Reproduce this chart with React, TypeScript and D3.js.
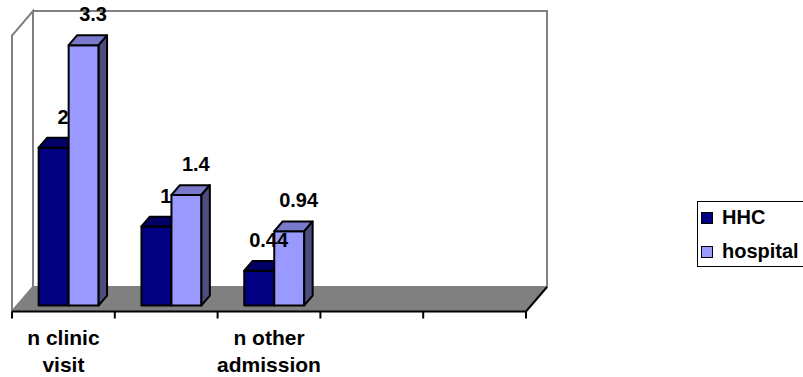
import React from "react";
import * as d3 from "d3";

// Chart data
const categories = ["n clinic visit", "", "n other admission", "", ""];
const seriesNames = ["HHC", "hospital"];
const hhcValues: (number | null)[] = [2, 1, 0.44, null, null];
const hospitalValues: (number | null)[] = [3.3, 1.4, 0.94, null, null];
const valueDomain = [0, 3.5];

const W = 803;
const H = 377;
const FONT = "'Liberation Sans', Arial, Helvetica, sans-serif";

// colours: front, top, side faces
const palette = [
  { front: "#000080", top: "#000066", side: "#000040" },
  { front: "#9999FF", top: "#7A7ACC", side: "#4D4D80" },
];

// 3D box geometry
const axisLeft = 12;
const axisRight = 526;
const floorFrontY = 311.5;
const depth: [number, number] = [21, -24.5];
const barDepthStart = 0.25;
const barDepthEnd = 0.65;

function wrapText(text: string, maxWidth: number, font: string): string[] {
  if (!text) return [];
  const ctx = document.createElement("canvas").getContext("2d");
  const measure = (s: string) => {
    if (!ctx) return s.length * 11;
    ctx.font = font;
    return ctx.measureText(s).width;
  };
  const words = text.split(" ");
  const lines: string[] = [];
  let cur = "";
  for (const w of words) {
    const next = cur ? cur + " " + w : w;
    if (cur && measure(next) > maxWidth) {
      lines.push(cur);
      cur = w;
    } else cur = next;
  }
  if (cur) lines.push(cur);
  return lines;
}

export default function App() {
  const idx = d3.range(categories.length);
  const xCat = d3.scaleBand<number>().domain(idx).range([axisLeft, axisRight]).padding(0);
  const xSeries = d3
    .scaleBand<string>()
    .domain(seriesNames)
    .range([0, xCat.bandwidth()])
    .paddingInner(0)
    .paddingOuter(0.713);

  const frontOff = [depth[0] * barDepthStart, depth[1] * barDepthStart];
  const barD = [depth[0] * (barDepthEnd - barDepthStart), depth[1] * (barDepthEnd - barDepthStart)];

  const yBack = d3.scaleLinear().domain(valueDomain).range([floorFrontY + depth[1], 11]);
  const yBar = d3
    .scaleLinear()
    .domain(valueDomain)
    .range([floorFrontY + frontOff[1], 11 - depth[1] + frontOff[1]]);

  const backLeft = axisLeft + depth[0];
  const backRight = axisRight + depth[0];
  const backBottom = floorFrontY + depth[1];
  const wallTop = yBack(valueDomain[1]);

  const line = (pts: [number, number][]) => "M" + pts.map((p) => p.join(",")).join("L");
  const poly = (pts: [number, number][]) => line(pts) + "Z";

  const allSeries = [hhcValues, hospitalValues];

  type Bar = { key: string; x: number; w: number; yTop: number; yBot: number; s: number; v: number };
  const bars: Bar[] = [];
  idx.forEach((i) => {
    allSeries.forEach((vals, s) => {
      const v = vals[i];
      if (v == null) return;
      const x = (xCat(i) as number) + (xSeries(seriesNames[s]) as number) + frontOff[0];
      bars.push({
        key: `${i}-${s}`,
        x,
        w: xSeries.bandwidth(),
        yTop: yBar(v),
        yBot: yBar(0),
        s,
        v,
      });
    });
  });

  const axisFont = `bold 21px ${FONT}`;

  return (
    <svg
      width={W}
      height={H}
      viewBox={`0 0 ${W} ${H}`}
      style={{ position: "absolute", left: 0, top: 0, background: "#fff" }}
      fontFamily={FONT}
    >
      {/* walls */}
      <path
        d={poly([
          [axisLeft, floorFrontY],
          [axisLeft, wallTop - depth[1]],
          [backLeft, wallTop],
          [backLeft, backBottom],
        ])}
        fill="#fff"
        stroke="#808080"
        strokeWidth={2}
      />
      <path
        d={poly([
          [backLeft, backBottom],
          [backLeft, wallTop],
          [backRight, wallTop],
          [backRight, backBottom],
        ])}
        fill="#fff"
        stroke="#808080"
        strokeWidth={2}
      />
      {/* floor */}
      <path
        d={poly([
          [axisLeft, floorFrontY],
          [backLeft, backBottom],
          [backRight, backBottom],
          [axisRight, floorFrontY],
        ])}
        fill="#808080"
        stroke="#808080"
        strokeWidth={1}
      />
      <path
        d={line([
          [axisLeft, floorFrontY],
          [axisRight, floorFrontY],
          [backRight, backBottom],
        ])}
        fill="none"
        stroke="#000"
        strokeWidth={2}
      />
      {/* category ticks */}
      {[...idx, categories.length].map((i) => {
        const x = i < categories.length ? (xCat(i) as number) : axisRight;
        return <line key={i} x1={x} x2={x} y1={floorFrontY} y2={floorFrontY + 7} stroke="#000" strokeWidth={2} />;
      })}
      {/* category labels */}
      {idx.map((i) => {
        const lines = wrapText(categories[i], xCat.bandwidth(), axisFont);
        const cx = (xCat(i) as number) + xCat.bandwidth() / 2;
        return (
          <text key={i} x={cx} y={345} textAnchor="middle" fontWeight="bold" fontSize={21} fill="#000">
            {lines.map((l, k) => (
              <tspan key={k} x={cx} dy={k === 0 ? 0 : 27}>
                {l}
              </tspan>
            ))}
          </text>
        );
      })}
      {/* bars */}
      {bars.map((b) => {
        const c = palette[b.s];
        const { x, w, yTop, yBot } = b;
        return (
          <g key={b.key} stroke="#000" strokeWidth={2} strokeLinejoin="round">
            <rect x={x} y={yTop} width={w} height={yBot - yTop} fill={c.front} />
            <path
              d={poly([
                [x, yTop],
                [x + w, yTop],
                [x + w + barD[0], yTop + barD[1]],
                [x + barD[0], yTop + barD[1]],
              ])}
              fill={c.top}
            />
            <path
              d={poly([
                [x + w, yTop],
                [x + w + barD[0], yTop + barD[1]],
                [x + w + barD[0], yBot + barD[1]],
                [x + w, yBot],
              ])}
              fill={c.side}
            />
          </g>
        );
      })}
      {/* value labels */}
      {bars.map((b) => (
        <text
          key={"l" + b.key}
          x={b.x + b.w / 2 + barD[0] + 1}
          y={b.yTop + barD[1] - 14}
          textAnchor="middle"
          fontWeight="bold"
          fontSize={20}
          fill="#000"
        >
          {String(b.v)}
        </text>
      ))}
      {/* legend */}
      <g>
        <rect x={697.5} y={201.5} width={120} height={65} fill="#fff" stroke="#000" strokeWidth={1} />
        {seriesNames.map((name, s) => (
          <g key={name} transform={`translate(701, ${212 + s * 34})`}>
            <rect x={0.5} y={0.5} width={11} height={11} fill={palette[s].front} stroke="#000" strokeWidth={1} />
            <text x={21} y={12} fontWeight="bold" fontSize={20} fill="#000">
              {name}
            </text>
          </g>
        ))}
      </g>
    </svg>
  );
}
